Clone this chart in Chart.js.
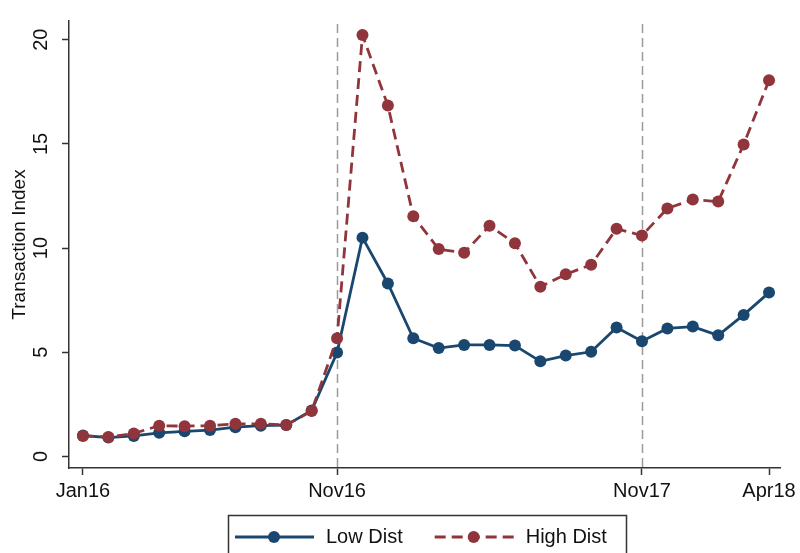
<!DOCTYPE html>
<html>
<head>
<meta charset="utf-8">
<title>Transaction Index</title>
<script src="https://cdn.jsdelivr.net/npm/chart.js@4/dist/chart.umd.min.js"></script>
<style>
  html, body { margin: 0; padding: 0; background: #fff; }
</style>
</head>
<body>
<canvas id="txChart" width="800" height="553"></canvas>
<script>
// monthly categories, Jan16 .. Apr18
const months = [
  "Jan16", "Feb16", "Mar16", "Apr16", "May16", "Jun16", "Jul16", "Aug16", "Sep16", "Oct16", "Nov16", "Dec16",
  "Jan17", "Feb17", "Mar17", "Apr17", "May17", "Jun17", "Jul17", "Aug17", "Sep17", "Oct17", "Nov17", "Dec17",
  "Jan18", "Feb18", "Mar18", "Apr18"
];

const lowDist = [
  1.0, 0.9, 0.98, 1.13, 1.2, 1.26, 1.4, 1.47, 1.5, 2.2, 4.98, 10.5,
  8.3, 5.67, 5.2, 5.35, 5.35, 5.32, 4.56, 4.84, 5.02, 6.19, 5.53, 6.14,
  6.23, 5.81, 6.79, 7.86
];

const highDist = [
  0.98, 0.93, 1.1, 1.47, 1.45, 1.47, 1.56, 1.56, 1.5, 2.18, 5.67, 20.23,
  16.84, 11.53, 9.95, 9.77, 11.07, 10.23, 8.14, 8.74, 9.2, 10.93, 10.6, 11.9,
  12.33, 12.23, 14.97, 18.05
];

const xTickLabels = ["Jan16", "Nov16", "Nov17", "Apr18"];
const yTickValues = [0, 5, 10, 15, 20];
const eventLabels = ["Nov16", "Nov17"]; // dashed reference lines

const FONT = "'Liberation Sans', Arial, Helvetica, sans-serif";
const NAVY = "#1a476f";
const MAROON = "#90353b";
const AXIS = "#333333";

const toPoints = (arr) => arr.map((v, i) => ({ x: i, y: v }));

// vertical dashed lines at the event months
const eventLines = {
  id: "eventLines",
  beforeDatasetsDraw(chart) {
    const { ctx, chartArea, scales } = chart;
    ctx.save();
    ctx.strokeStyle = "#9a9a9a";
    ctx.lineWidth = 1.5;
    ctx.setLineDash([9, 5]);
    eventLabels.forEach((lab) => {
      const px = Math.round(scales.x.getPixelForValue(months.indexOf(lab))) + 0.5;
      ctx.beginPath();
      ctx.moveTo(px, chartArea.top + 3);
      ctx.lineTo(px, chartArea.bottom);
      ctx.stroke();
    });
    ctx.restore();
  }
};

// Stata-style boxed legend with line + marker samples
const boxLegend = {
  id: "boxLegend",
  afterDraw(chart) {
    const { ctx } = chart;
    ctx.save();
    ctx.strokeStyle = AXIS;
    ctx.lineWidth = 1.5;
    ctx.setLineDash([]);
    ctx.strokeRect(228.5, 515.5, 398, 60);

    ctx.font = "20px " + FONT;
    ctx.textBaseline = "middle";
    ctx.fillStyle = "#111";
    const yMid = 537;
    let x = 235;
    chart.data.datasets.forEach((ds) => {
      ctx.strokeStyle = ds.borderColor;
      ctx.lineWidth = ds.borderWidth;
      ctx.setLineDash(ds.borderDash || []);
      ctx.beginPath();
      ctx.moveTo(x, yMid);
      ctx.lineTo(x + 79, yMid);
      ctx.stroke();
      ctx.setLineDash([]);
      ctx.fillStyle = ds.pointBackgroundColor;
      ctx.beginPath();
      ctx.arc(x + 39, yMid, ds.pointRadius, 0, Math.PI * 2);
      ctx.fill();
      x += 79 + 12;
      ctx.fillStyle = "#111";
      ctx.fillText(ds.label, x, yMid);
      x += ctx.measureText(ds.label).width + 32;
    });
    ctx.restore();
  }
};

new Chart(document.getElementById("txChart"), {
  type: "line",
  data: {
    datasets: [
      {
        label: "Low Dist",
        data: toPoints(lowDist),
        borderColor: NAVY,
        backgroundColor: NAVY,
        pointBackgroundColor: NAVY,
        pointBorderColor: NAVY,
        borderWidth: 2.8,
        pointRadius: 6,
        pointBorderWidth: 0,
        tension: 0,
        clip: false,
        order: 1
      },
      {
        label: "High Dist",
        data: toPoints(highDist),
        borderColor: MAROON,
        backgroundColor: MAROON,
        pointBackgroundColor: MAROON,
        pointBorderColor: MAROON,
        borderWidth: 2.8,
        borderDash: [11, 6],
        pointRadius: 6,
        pointBorderWidth: 0,
        tension: 0,
        clip: false,
        order: 0
      }
    ]
  },
  options: {
    responsive: false,
    animation: false,
    events: [],
    layout: { padding: { top: 7, right: 17, left: 0, bottom: 0 } },
    plugins: {
      legend: { display: false },
      tooltip: { enabled: false }
    },
    scales: {
      x: {
        type: "linear",
        min: -0.55,
        max: 27.47,
        afterBuildTicks: (scale) => {
          scale.ticks = xTickLabels.map((lab) => ({ value: months.indexOf(lab) }));
        },
        afterFit: (scale) => { scale.height = 85; },
        grid: { drawOnChartArea: false, drawTicks: true, tickLength: 7, tickColor: AXIS, tickWidth: 1.5 },
        border: { color: AXIS, width: 1.5 },
        ticks: {
          autoSkip: false,
          maxRotation: 0,
          padding: 4,
          color: "#111",
          font: { family: FONT, size: 20 },
          callback: (v) => months[v]
        }
      },
      y: {
        min: -0.56,
        max: 20.9,
        afterBuildTicks: (scale) => {
          scale.ticks = yTickValues.map((v) => ({ value: v }));
        },
        afterFit: (scale) => { scale.width = 69; },
        grid: { drawOnChartArea: false, drawTicks: true, tickLength: 7, tickColor: AXIS, tickWidth: 1.5 },
        border: { color: AXIS, width: 1.5 },
        title: {
          display: true,
          text: "Transaction Index",
          color: "#111",
          font: { family: FONT, size: 19 },
          padding: { top: 8, bottom: 0 }
        },
        ticks: {
          minRotation: 90,
          maxRotation: 90,
          crossAlign: "center",
          padding: 9,
          color: "#111",
          font: { family: FONT, size: 20 }
        }
      }
    }
  },
  plugins: [eventLines, boxLegend]
});
</script>
</body>
</html>
